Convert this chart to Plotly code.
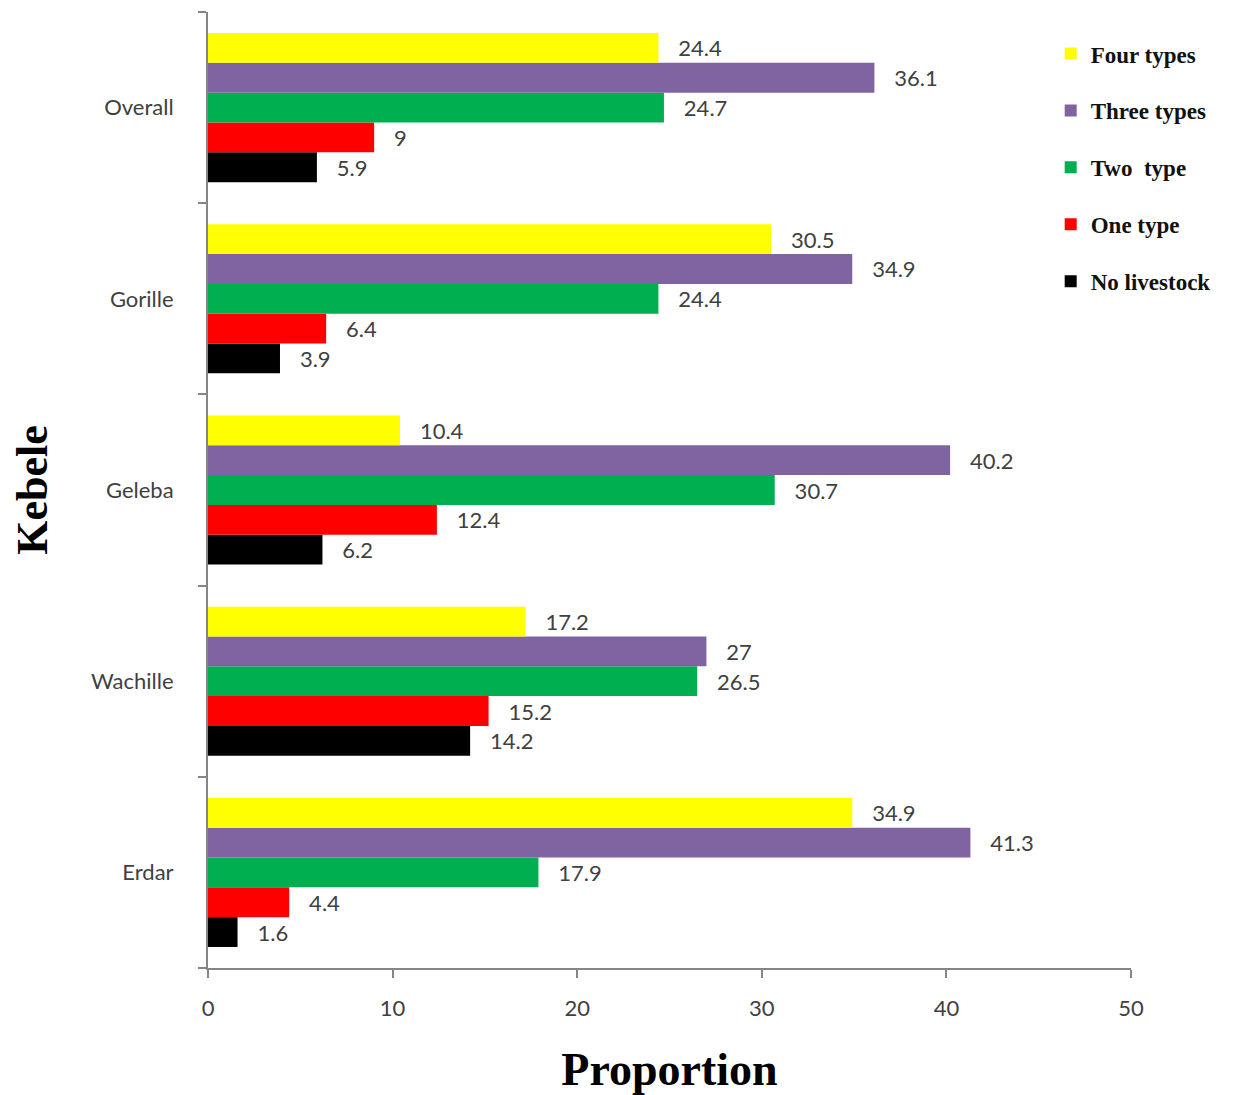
import plotly.graph_objects as go

kebeles = ["Erdar", "Wachille", "Geleba", "Gorille", "Overall"]
series_names = ["No livestock", "One type", "Two  type", "Three types", "Four types"]
no_livestock = [1.6, 14.2, 6.2, 3.9, 5.9]
one_type = [4.4, 15.2, 12.4, 6.4, 9]
two_type = [17.9, 26.5, 30.7, 24.4, 24.7]
three_types = [41.3, 27, 40.2, 34.9, 36.1]
four_types = [34.9, 17.2, 10.4, 30.5, 24.4]
colors = ["#000000", "#FF0000", "#00B050", "#8064A2", "#FFFF00"]
x_ticks = [0, 10, 20, 30, 40, 50]

series = [no_livestock, one_type, two_type, three_types, four_types]

fig = go.Figure()
for i, (name, vals, col) in enumerate(zip(series_names, series, colors)):
    fig.add_trace(go.Bar(
        y=kebeles, x=vals, name=name, orientation="h",
        marker=dict(color=col, line=dict(width=0)),
        texttemplate="\u00a0\u00a0\u00a0%{x}", textposition="outside",
        textfont=dict(family="Lato, Open Sans, sans-serif", size=22, color="#404040"),
        cliponaxis=False, legendgroup="g%d" % i, legendrank=len(series) - i,
    ))

fig.update_layout(
    barmode="group", bargap=0.22, bargroupgap=0,
    width=1247, height=1095,
    margin=dict(l=208, r=116, t=12, b=127),
    plot_bgcolor="white", paper_bgcolor="white",
    showlegend=True,
    legend=dict(
        x=0.913, y=0.979, xanchor="left", yanchor="top",
        traceorder="grouped", tracegroupgap=24,
        font=dict(family="Liberation Serif, Times New Roman, serif", size=23,
                  color="#111111", weight="bold"),
        itemwidth=30, bgcolor="rgba(0,0,0,0)",
    ),
    xaxis=dict(
        range=[0, 50], tickvals=x_ticks, showgrid=False, zeroline=False,
        showline=True, linecolor="#868686", linewidth=2,
        ticks="outside", ticklen=8, tickcolor="#868686", tickwidth=2,
        ticklabelstandoff=12, automargin=False,
        tickfont=dict(family="Lato, Open Sans, sans-serif", size=22, color="#404040"),
        title=dict(text="<b>Proportion</b>", standoff=36,
                   font=dict(family="Liberation Serif, Times New Roman, serif", size=46, color="black")),
    ),
    yaxis=dict(
        categoryorder="array", categoryarray=kebeles, showgrid=False,
        showline=True, linecolor="#868686", linewidth=2,
        ticks="outside", ticklen=8, tickcolor="#868686", tickwidth=2,
        tickson="boundaries", ticklabelstandoff=28, automargin=False,
        tickfont=dict(family="Lato, Open Sans, sans-serif", size=22, color="#404040"),
        title=dict(text="<b>Kebele</b>", standoff=30,
                   font=dict(family="Liberation Serif, Times New Roman, serif", size=44, color="black")),
    ),
)

fig.write_html("out.html")
